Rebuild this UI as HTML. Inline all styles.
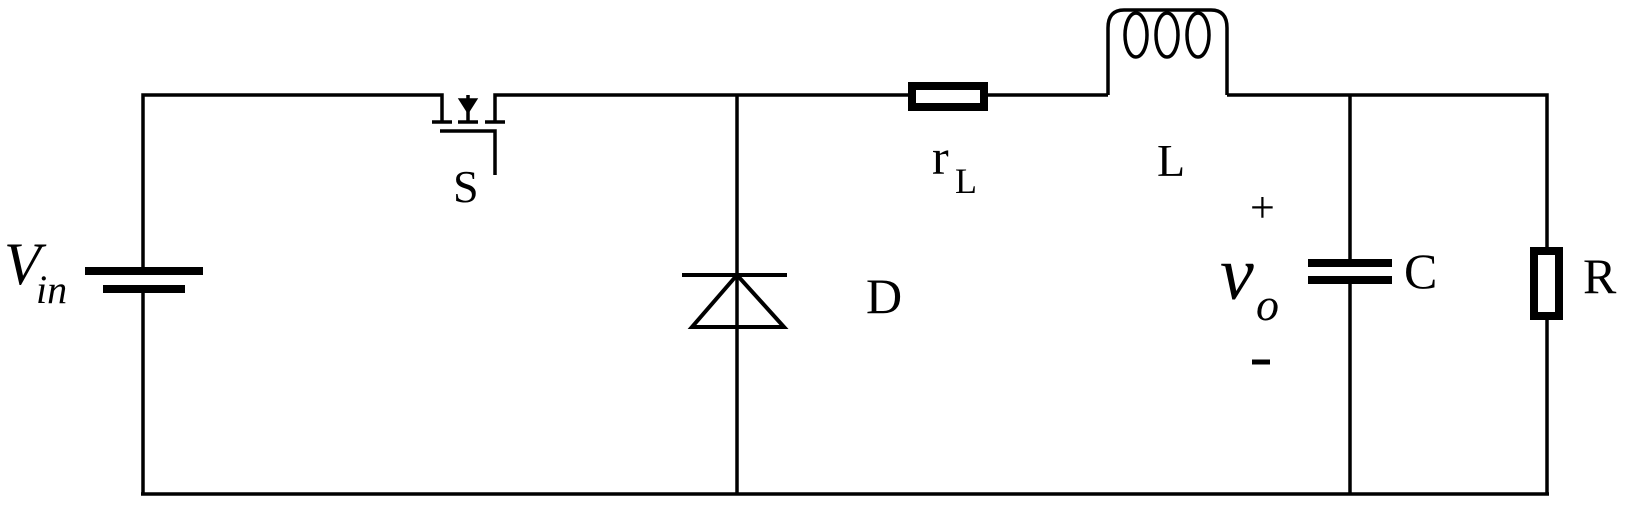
<!DOCTYPE html>
<html><head><meta charset="utf-8"><style>
html,body{margin:0;padding:0;background:#fff;}
svg{display:block;}
text{font-family:"Liberation Serif",serif;fill:#000;}
</style></head><body>
<svg width="1628" height="512" viewBox="0 0 1628 512">
<g stroke="#000" stroke-width="3.5" fill="none">
  <polyline points="442,122 442,95 143,95 143,271"/>
  <line x1="143" y1="289" x2="143" y2="494"/>
  <line x1="141" y1="494" x2="1549" y2="494"/>
  <polyline points="495,122 495,95 908,95"/>
  <line x1="988" y1="95" x2="1108" y2="95"/>
  <polyline points="1227,95 1547,95 1547,247"/>
  <line x1="1547" y1="320" x2="1547" y2="494"/>
  <line x1="737" y1="95" x2="737" y2="494"/>
  <line x1="1350" y1="95" x2="1350" y2="263"/>
  <line x1="1350" y1="280" x2="1350" y2="494"/>
</g>
<g>
  <line x1="85" y1="271" x2="203" y2="271" stroke="#000" stroke-width="8"/>
  <line x1="103" y1="289" x2="185" y2="289" stroke="#000" stroke-width="8"/>
  <text x="4" y="284" font-size="60" font-style="italic">V<tspan x="36" y="303" font-size="40">in</tspan></text>
</g>
<g stroke="#000" stroke-width="3.5" fill="none">
  <line x1="432" y1="122" x2="452" y2="122"/>
  <line x1="458" y1="122" x2="478" y2="122"/>
  <line x1="485" y1="122" x2="505" y2="122"/>
  <line x1="468" y1="95" x2="468" y2="122"/>
  <polyline points="440,131 495,131 495,175"/>
  <polygon points="461,100 475,100 468,111" fill="#000"/>
</g>
<text x="453" y="202" font-size="46">S</text>
<g>
  <line x1="682" y1="275" x2="787" y2="275" stroke="#000" stroke-width="4"/>
  <polygon points="737,275 692,327 784,327" fill="none" stroke="#000" stroke-width="4"/>
  <text x="866" y="313" font-size="50">D</text>
</g>
<g>
  <rect x="912" y="86" width="72" height="21" fill="#fff" stroke="#000" stroke-width="8"/>
  <text x="932" y="174" font-size="50">r<tspan x="955" y="193" font-size="36">L</tspan></text>
</g>
<g stroke="#000" stroke-width="3.5" fill="none">
  <path d="M1108,95 V28 Q1108,10 1124,10 H1211 Q1227,10 1227,28 V95"/>
  <ellipse cx="1136" cy="35" rx="11" ry="22"/>
  <ellipse cx="1167" cy="35" rx="11" ry="22"/>
  <ellipse cx="1198" cy="35" rx="11" ry="22"/>
  <text x="1157" y="176" font-size="46" stroke="none" fill="#000">L</text>
</g>
<g>
  <line x1="1308" y1="263" x2="1392" y2="263" stroke="#000" stroke-width="8"/>
  <line x1="1308" y1="280" x2="1392" y2="280" stroke="#000" stroke-width="8"/>
  <text x="1404" y="288" font-size="50">C</text>
</g>
<text x="1250" y="222" font-size="44">+</text>
<text x="1220" y="299" font-size="76" font-style="italic">v<tspan x="1256" y="320" font-size="46">o</tspan></text>
<line x1="1252" y1="362" x2="1270" y2="362" stroke="#000" stroke-width="5"/>
<g>
  <rect x="1534" y="251" width="25" height="65" fill="#fff" stroke="#000" stroke-width="8"/>
  <text x="1583" y="293" font-size="50">R</text>
</g>
</svg>
</body></html>
